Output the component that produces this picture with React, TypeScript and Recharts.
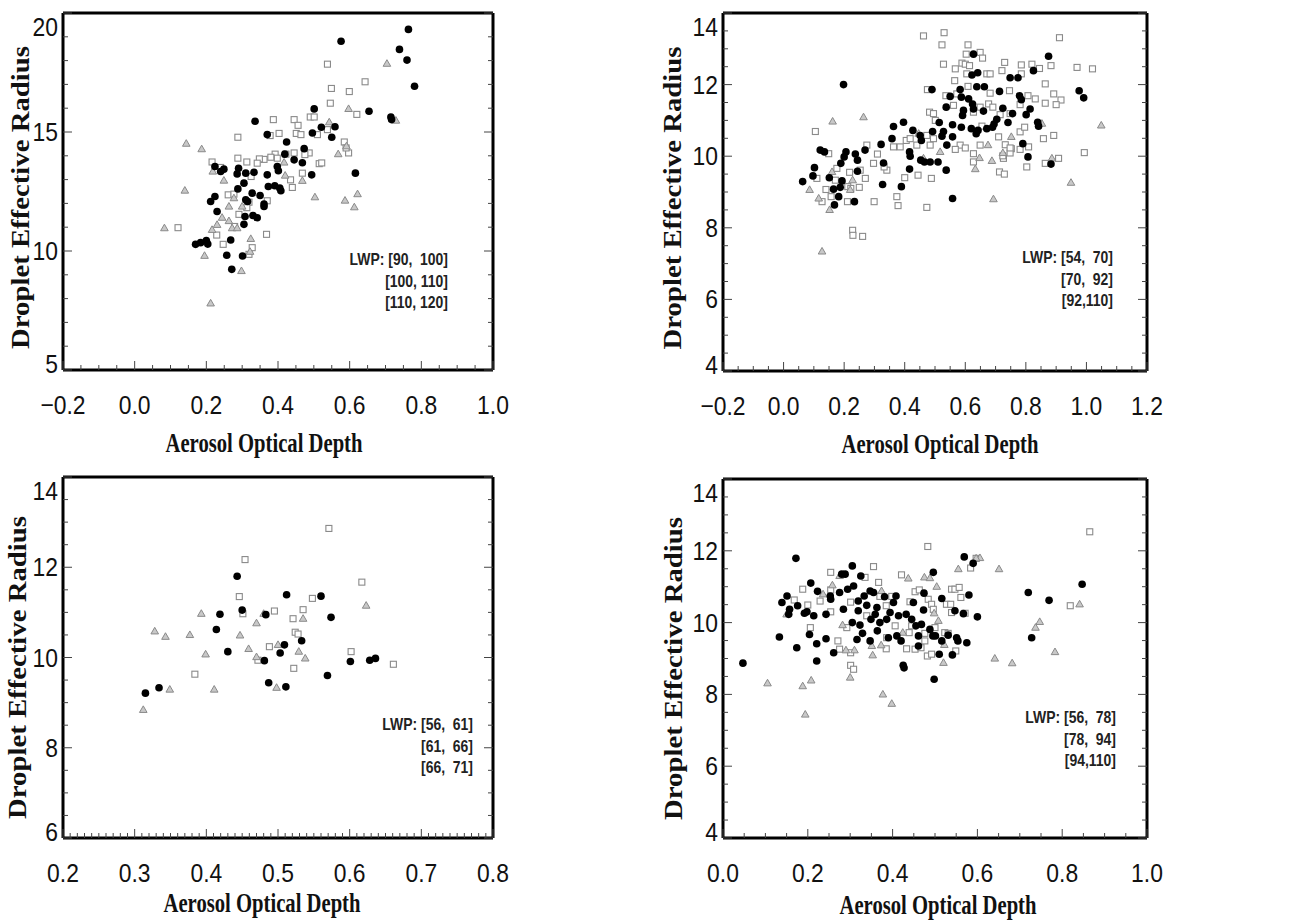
import React from "react";
import { Legend, Scatter, ScatterChart, XAxis, YAxis } from "recharts";

type Pt = [number, number];

// panel (a): LWP 90-120
const p1Circles: Pt[] = [
  [0.764, 19.31], [0.576, 18.81], [0.739, 18.47], [0.76, 18.02], [0.781, 16.92], [0.501, 15.97],
  [0.654, 15.87], [0.715, 15.63], [0.717, 15.52], [0.336, 15.45], [0.37, 14.89], [0.496, 14.96],
  [0.521, 15.2], [0.559, 15.22], [0.55, 14.78], [0.424, 14.58], [0.473, 14.3], [0.419, 14.07],
  [0.445, 13.83], [0.468, 13.71], [0.398, 13.55], [0.401, 13.37], [0.37, 13.2], [0.333, 13.31],
  [0.31, 13.27], [0.286, 13.24], [0.29, 13.48], [0.305, 12.85], [0.288, 12.61], [0.328, 12.43],
  [0.35, 12.33], [0.31, 12.15], [0.315, 12.08], [0.361, 11.97], [0.361, 11.87], [0.373, 12.71],
  [0.391, 12.74], [0.405, 12.64], [0.408, 12.53], [0.494, 13.2], [0.616, 13.27], [0.224, 13.55],
  [0.24, 13.34], [0.249, 13.44], [0.212, 12.08], [0.224, 12.29], [0.23, 11.66], [0.308, 11.45],
  [0.33, 11.49], [0.342, 11.4], [0.305, 11.12], [0.17, 10.28], [0.184, 10.35], [0.2, 10.44],
  [0.204, 10.29], [0.268, 10.46], [0.257, 9.82], [0.301, 9.79], [0.271, 9.23],
];
const p1Squares: Pt[] = [
  [0.538, 17.85], [0.549, 16.83], [0.546, 16.21], [0.643, 17.11], [0.599, 16.7], [0.62, 15.74],
  [0.49, 15.63], [0.501, 15.63], [0.445, 15.52], [0.456, 15.28], [0.451, 14.94], [0.464, 14.89],
  [0.387, 15.52], [0.288, 14.78], [0.403, 14.94], [0.378, 14.85], [0.51, 14.89], [0.538, 15.1],
  [0.585, 14.58], [0.597, 14.12], [0.59, 14.33], [0.487, 14.12], [0.475, 14.05], [0.445, 14.12],
  [0.422, 14.07], [0.392, 14.07], [0.398, 13.9], [0.38, 13.94], [0.361, 13.85], [0.348, 13.87],
  [0.342, 13.69], [0.313, 13.74], [0.288, 13.9], [0.24, 13.51], [0.216, 13.74], [0.468, 13.27],
  [0.515, 13.67], [0.522, 13.7], [0.435, 12.99], [0.44, 12.67], [0.325, 13.13], [0.261, 12.36],
  [0.277, 12.39], [0.319, 12.05], [0.313, 11.82], [0.37, 12.11], [0.291, 11.54], [0.279, 11.03],
  [0.229, 10.67], [0.247, 10.28], [0.368, 10.7], [0.121, 10.98], [0.319, 9.86], [0.328, 10.14],
];
const p1Triangles: Pt[] = [
  [0.704, 17.87], [0.597, 15.97], [0.729, 15.48], [0.543, 15.41], [0.568, 14.07], [0.591, 14.4],
  [0.144, 14.51], [0.187, 14.28], [0.14, 12.54], [0.503, 12.26], [0.587, 12.12], [0.622, 12.39],
  [0.613, 11.84], [0.083, 10.96], [0.195, 9.8], [0.298, 9.16], [0.212, 7.8], [0.324, 10.51],
  [0.322, 9.97], [0.249, 12.96], [0.263, 11.87], [0.244, 11.4], [0.263, 11.26], [0.272, 10.96],
  [0.286, 10.96], [0.23, 11.1], [0.216, 10.89], [0.417, 13.72], [0.468, 12.95], [0.42, 13.17],
  [0.277, 12.22], [0.3, 11.87], [0.218, 13.34],
];
const p1XTicks = [-0.2, 0, 0.2, 0.4, 0.6, 0.8, 1.0];
const p1YTicks = [5, 10, 15, 20];
const p1Lwp = ["[90,  100]", "[100, 110]", "[110, 120]"];

// panel (b): LWP 54-110
const p2Circles: Pt[] = [
  [0.063, 9.29], [0.097, 9.45], [0.102, 9.68], [0.121, 10.17], [0.135, 10.12], [0.151, 9.4],
  [0.165, 9.08], [0.168, 8.64], [0.182, 8.87], [0.187, 9.13], [0.193, 9.31], [0.189, 9.8],
  [0.2, 9.98], [0.206, 10.12], [0.198, 12.0], [0.234, 8.73], [0.237, 10.06], [0.244, 9.89],
  [0.244, 9.58], [0.269, 10.17], [0.322, 10.33], [0.33, 9.81], [0.327, 9.21], [0.358, 10.49],
  [0.363, 10.83], [0.396, 10.95], [0.389, 9.15], [0.416, 10.12], [0.418, 10.0], [0.416, 9.64],
  [0.427, 10.72], [0.451, 10.58], [0.455, 10.44], [0.453, 9.89], [0.465, 9.84], [0.484, 9.84],
  [0.51, 9.84], [0.49, 11.86], [0.492, 10.69], [0.514, 10.94], [0.523, 10.56], [0.528, 10.69],
  [0.537, 9.61], [0.537, 11.37], [0.539, 10.31], [0.55, 11.67], [0.558, 10.88], [0.558, 10.54],
  [0.558, 8.82], [0.583, 11.86], [0.587, 11.65], [0.591, 11.14], [0.587, 10.81], [0.611, 11.6],
  [0.622, 12.27], [0.624, 11.46], [0.627, 12.85], [0.638, 11.94], [0.641, 12.33], [0.636, 10.63],
  [0.642, 10.72], [0.62, 10.77], [0.66, 11.26], [0.663, 11.94], [0.671, 10.77], [0.69, 10.81],
  [0.695, 10.9], [0.704, 11.03], [0.713, 11.81], [0.724, 11.34], [0.741, 10.94], [0.748, 12.19],
  [0.756, 11.19], [0.774, 12.19], [0.779, 11.69], [0.785, 11.58], [0.79, 10.35], [0.801, 11.16],
  [0.807, 9.98], [0.814, 11.32], [0.825, 12.39], [0.839, 10.95], [0.842, 10.84], [0.875, 12.79],
  [0.883, 9.78], [0.976, 11.83], [0.991, 11.63], [0.627, 11.32], [0.594, 11.28],
];
const p2Squares: Pt[] = [
  [0.462, 13.36], [0.53, 13.45], [0.523, 13.11], [0.528, 12.57], [0.609, 13.11], [0.603, 12.85],
  [0.649, 12.9], [0.657, 12.74], [0.911, 13.31], [0.567, 12.44], [0.589, 12.6], [0.6, 12.57],
  [0.614, 12.53], [0.605, 12.3], [0.671, 12.3], [0.682, 12.3], [0.721, 12.39], [0.73, 12.62],
  [0.785, 12.55], [0.785, 12.3], [0.82, 12.57], [0.845, 12.45], [0.883, 12.53], [0.969, 12.48],
  [1.02, 12.44], [0.565, 12.11], [0.609, 11.95], [0.475, 11.86], [0.536, 11.69], [0.572, 11.74],
  [0.561, 11.42], [0.682, 11.76], [0.746, 11.83], [0.807, 11.69], [0.831, 11.6], [0.864, 12.02],
  [0.892, 11.74], [0.916, 11.57], [0.9, 11.44], [0.864, 11.48], [0.482, 11.23], [0.495, 11.19],
  [0.501, 11.0], [0.627, 11.23], [0.649, 11.37], [0.677, 11.46], [0.691, 11.37], [0.715, 11.16],
  [0.748, 11.19], [0.781, 11.44], [0.105, 10.69], [0.858, 10.49], [0.892, 10.58], [0.781, 10.68],
  [0.796, 10.81], [0.809, 10.26], [0.752, 10.21], [0.71, 10.54], [0.732, 10.32], [0.649, 10.31],
  [0.655, 10.84], [0.583, 10.31], [0.6, 10.23], [0.567, 10.19], [0.627, 10.07], [0.627, 9.84],
  [0.726, 9.94], [0.748, 10.09], [0.748, 10.23], [0.724, 10.01], [0.781, 10.19], [0.803, 9.7],
  [0.713, 9.56], [0.729, 9.5], [0.864, 9.8], [0.908, 9.94], [0.993, 10.1], [0.363, 10.26],
  [0.385, 10.26], [0.405, 10.44], [0.418, 10.49], [0.44, 10.31], [0.473, 10.58], [0.484, 10.31],
  [0.495, 10.49], [0.31, 10.06], [0.341, 9.61], [0.332, 9.7], [0.297, 9.8], [0.4, 9.4],
  [0.444, 9.47], [0.488, 9.38], [0.275, 10.31], [0.253, 9.61], [0.27, 9.38], [0.25, 9.13],
  [0.218, 9.55], [0.212, 9.15], [0.222, 9.1], [0.211, 8.73], [0.299, 8.73], [0.374, 8.87],
  [0.378, 8.62], [0.473, 8.57], [0.228, 7.93], [0.229, 7.79], [0.261, 7.76], [0.14, 9.07],
  [0.127, 8.73], [0.157, 8.87], [0.11, 9.38], [0.176, 9.66], [0.171, 9.33], [0.149, 10.07],
];
const p2Triangles: Pt[] = [
  [0.162, 10.97], [0.264, 11.09], [0.127, 7.34], [0.086, 9.06], [0.152, 8.5], [0.116, 8.82],
  [0.16, 9.56], [0.228, 9.33], [0.22, 9.06], [0.693, 8.8], [0.949, 9.26], [1.049, 10.86],
  [0.688, 9.87], [0.633, 9.64], [0.647, 9.95], [0.675, 10.31], [0.752, 10.54], [0.724, 10.09],
  [0.853, 10.91], [0.886, 9.94], [0.517, 10.12], [0.462, 9.94], [0.446, 10.63],
];
const p2XTicks = [-0.2, 0, 0.2, 0.4, 0.6, 0.8, 1.0, 1.2];
const p2YTicks = [4, 6, 8, 10, 12, 14];
const p2Lwp = ["[54,  70]", "[70,  92]", "[92,110]"];

// panel (c): LWP 56-71
const p3Circles: Pt[] = [
  [0.315, 9.21], [0.334, 9.33], [0.414, 10.62], [0.419, 10.96], [0.43, 10.13], [0.443, 11.8],
  [0.45, 11.05], [0.481, 9.93], [0.483, 10.95], [0.487, 9.44], [0.503, 10.1], [0.509, 10.28],
  [0.511, 9.35], [0.512, 11.39], [0.533, 10.37], [0.56, 11.36], [0.569, 9.6], [0.574, 10.89],
  [0.601, 9.91], [0.628, 9.94], [0.636, 9.98],
];
const p3Squares: Pt[] = [
  [0.571, 12.86], [0.454, 12.17], [0.446, 11.35], [0.617, 11.67], [0.548, 11.31], [0.535, 11.06],
  [0.495, 11.03], [0.521, 10.86], [0.524, 10.56], [0.528, 10.52], [0.488, 10.24], [0.472, 9.94],
  [0.522, 9.76], [0.384, 9.63], [0.602, 10.13], [0.661, 9.85], [0.451, 10.97],
];
const p3Triangles: Pt[] = [
  [0.312, 8.84], [0.328, 10.58], [0.343, 10.46], [0.349, 9.29], [0.377, 10.5], [0.393, 10.97],
  [0.399, 10.07], [0.411, 9.29], [0.447, 10.49], [0.459, 10.19], [0.47, 10.76], [0.47, 10.01],
  [0.48, 10.97], [0.498, 9.33], [0.5, 10.28], [0.529, 10.13], [0.535, 10.86], [0.538, 9.98],
  [0.623, 11.15],
];
const p3XTicks = [0.2, 0.3, 0.4, 0.5, 0.6, 0.7, 0.8];
const p3YTicks = [6, 8, 10, 12, 14];
const p3Lwp = ["[56,  61]", "[61,  66]", "[66,  71]"];

// panel (d): LWP 56-110
const p4Circles: Pt[] = [
  [0.047, 8.87], [0.133, 9.6], [0.139, 10.56], [0.151, 10.74], [0.155, 10.23], [0.157, 10.37],
  [0.172, 11.79], [0.174, 9.3], [0.176, 10.47], [0.192, 10.26], [0.198, 10.3], [0.204, 9.67],
  [0.207, 11.1], [0.214, 10.19], [0.221, 9.41], [0.221, 8.93], [0.223, 10.87], [0.243, 10.23],
  [0.243, 9.55], [0.254, 10.65], [0.261, 9.16], [0.275, 10.84], [0.284, 10.37], [0.288, 11.35],
  [0.294, 10.93], [0.305, 11.58], [0.305, 10.0], [0.308, 11.02], [0.316, 9.53], [0.319, 10.6],
  [0.319, 10.33], [0.323, 9.93], [0.325, 11.3], [0.329, 9.7], [0.333, 10.74], [0.339, 10.48],
  [0.347, 9.49], [0.349, 10.09], [0.355, 10.84], [0.359, 10.23], [0.363, 10.42], [0.364, 9.77],
  [0.37, 10.0], [0.381, 10.72], [0.386, 10.09], [0.39, 9.58], [0.394, 10.28], [0.402, 10.56],
  [0.408, 10.74], [0.41, 9.63], [0.414, 10.19], [0.42, 9.49], [0.425, 8.81], [0.427, 8.74],
  [0.432, 10.23], [0.445, 10.09], [0.449, 10.56], [0.455, 9.91], [0.461, 9.35], [0.461, 9.63],
  [0.473, 10.35], [0.474, 10.82], [0.468, 9.95], [0.488, 9.81], [0.495, 9.63], [0.496, 11.4],
  [0.498, 8.42], [0.501, 9.63], [0.51, 9.12], [0.516, 10.67], [0.516, 9.49], [0.531, 9.65],
  [0.541, 9.1], [0.547, 10.33], [0.551, 9.58], [0.554, 9.49], [0.567, 10.25], [0.569, 11.83],
  [0.575, 9.44], [0.58, 10.77], [0.59, 11.65], [0.6, 10.16], [0.72, 10.84], [0.728, 9.58],
  [0.769, 10.62], [0.847, 11.07], [0.28, 11.35], [0.253, 10.74], [0.347, 10.88],
];
const p4Squares: Pt[] = [
  [0.483, 12.12], [0.865, 12.53], [0.355, 11.56], [0.254, 11.4], [0.421, 11.33], [0.367, 11.12],
  [0.188, 10.93], [0.168, 10.63], [0.2, 10.49], [0.229, 10.6], [0.254, 10.91], [0.301, 10.57],
  [0.335, 11.26], [0.37, 10.73], [0.385, 10.47], [0.398, 10.73], [0.441, 10.58], [0.453, 10.86],
  [0.463, 10.91], [0.484, 10.65], [0.492, 10.51], [0.539, 10.93], [0.547, 10.93], [0.557, 10.98],
  [0.527, 10.51], [0.537, 10.51], [0.561, 10.7], [0.571, 10.26], [0.539, 10.28], [0.584, 11.52],
  [0.597, 11.79], [0.819, 10.47], [0.206, 9.86], [0.254, 10.3], [0.271, 9.49], [0.275, 9.26],
  [0.292, 9.86], [0.301, 9.16], [0.301, 8.81], [0.308, 8.7], [0.339, 10.19], [0.385, 9.27],
  [0.386, 9.58], [0.433, 9.27], [0.439, 9.72], [0.445, 9.91], [0.453, 9.26], [0.476, 9.49],
  [0.476, 9.7], [0.467, 9.3], [0.482, 9.07], [0.492, 9.12], [0.5, 9.86], [0.496, 10.37],
  [0.523, 9.72], [0.531, 9.7], [0.549, 9.21], [0.406, 9.91],
];
const p4Triangles: Pt[] = [
  [0.105, 8.31], [0.188, 8.23], [0.208, 8.39], [0.194, 7.44], [0.377, 8.0], [0.398, 7.74],
  [0.3, 8.47], [0.29, 9.23], [0.31, 9.23], [0.353, 9.09], [0.373, 9.37], [0.351, 9.35],
  [0.52, 8.88], [0.522, 9.38], [0.508, 10.05], [0.641, 9.0], [0.682, 8.87], [0.783, 9.18],
  [0.737, 9.86], [0.747, 10.02], [0.841, 10.51], [0.651, 11.49], [0.555, 11.49], [0.606, 11.8],
  [0.597, 11.79], [0.504, 11.0], [0.475, 11.26], [0.488, 11.24], [0.437, 11.23], [0.275, 11.3],
  [0.258, 11.04], [0.236, 10.79], [0.15, 10.23], [0.282, 9.93], [0.374, 10.88], [0.424, 9.72],
  [0.498, 10.26],
];
const p4XTicks = [0, 0.2, 0.4, 0.6, 0.8, 1.0];
const p4YTicks = [4, 6, 8, 10, 12, 14];
const p4Lwp = ["[56,  78]", "[78,  94]", "[94,110]"];

const SANS = '"Liberation Sans", Arial, Helvetica, sans-serif';
const SERIF = '"Liberation Serif", "Times New Roman", Times, serif';
const INK = "#111";
const TICK_COLOR = "#444";
const CHART_W = 645;
const CHART_H = 460;

const stepTicks = (lo: number, hi: number, step: number) => {
  const n = Math.round((hi - lo) / step);
  return Array.from({ length: n + 1 }, (_, i) => +(lo + i * step).toFixed(4));
};
const isMajor = (v: number, majors: number[]) => majors.some((m) => Math.abs(m - v) < 1e-6);
const fmtX = (v: number) => v.toFixed(1).replace("-", "\u2212");
const toXY = (pts: Pt[]) => pts.map(([x, y]) => ({ x, y }));

const panels = [
  {
    id: "a", left: 0, top: 0,
    plot: { left: 63, top: 13, right: 493, bottom: 370 },
    xDomain: [-0.2, 1.0], xTicks: p1XTicks, xMinor: 0.05,
    yDomain: [5, 20], yTicks: p1YTicks, yMinor: 1,
    circles: p1Circles, squares: p1Squares, triangles: p1Triangles, lwp: p1Lwp,
    legend: { right: 448, top: 249 }, xTitle: { dx: -14, dy: 73 }, yTitle: { off: 43, dy: 6 },
  },
  {
    id: "b", left: 645, top: 0,
    plot: { left: 78, top: 13, right: 502, bottom: 371 },
    xDomain: [-0.2, 1.2], xTicks: p2XTicks, xMinor: 0.05,
    yDomain: [4, 14], yTicks: p2YTicks, yMinor: 0.5,
    circles: p2Circles, squares: p2Squares, triangles: p2Triangles, lwp: p2Lwp,
    legend: { right: 468, top: 247 }, xTitle: { dx: 5, dy: 73 }, yTitle: { off: 51, dy: 6 },
  },
  {
    id: "c", left: 0, top: 460,
    plot: { left: 63, top: 17, right: 493, bottom: 378 },
    xDomain: [0.2, 0.8], xTicks: p3XTicks, xMinor: 0.01,
    yDomain: [6, 14], yTicks: p3YTicks, yMinor: 0.5,
    circles: p3Circles, squares: p3Squares, triangles: p3Triangles, lwp: p3Lwp,
    legend: { right: 473, top: 254 }, xTitle: { dx: -16, dy: 65 }, yTitle: { off: 46, dy: 10 },
  },
  {
    id: "d", left: 645, top: 460,
    plot: { left: 78, top: 19, right: 502, bottom: 378 },
    xDomain: [0, 1.0], xTicks: p4XTicks, xMinor: 0.05,
    yDomain: [4, 14], yTicks: p4YTicks, yMinor: 0.5,
    circles: p4Circles, squares: p4Squares, triangles: p4Triangles, lwp: p4Lwp,
    legend: { right: 471, top: 247 }, xTitle: { dx: 3, dy: 67 }, yTitle: { off: 50, dy: 10 },
  },
];

type PanelCfg = (typeof panels)[number];

const tickText = (x: number, y: number, anchor: string, label: string) => (
  <text
    transform={`translate(${x},${y}) scale(0.88,1)`}
    textAnchor={anchor}
    dominantBaseline="central"
    fontFamily={SANS}
    fontSize={26}
    fill={INK}
  >
    {label}
  </text>
);

function LwpLegend({ labels }: { labels: string[] }) {
  return (
    <div
      style={{
        fontFamily: SANS,
        fontWeight: 700,
        fontSize: 17,
        lineHeight: "21.5px",
        color: "#222",
        textAlign: "right",
        whiteSpace: "pre",
        transform: "scaleX(0.82)",
        transformOrigin: "right top",
      }}
    >
      {labels.map((l, i) => (
        <div key={l}>{(i === 0 ? "LWP: " : "") + l}</div>
      ))}
    </div>
  );
}

function Panel({ cfg }: { cfg: PanelCfg }) {
  const { plot } = cfg;
  const xAll = stepTicks(cfg.xDomain[0], cfg.xDomain[1], cfg.xMinor);
  const yAll = stepTicks(cfg.yDomain[0], cfg.yDomain[1], cfg.yMinor);
  const yTop = cfg.yDomain[1];
  const yBot = cfg.yDomain[0];
  const frame = { stroke: "#000", strokeWidth: 3 };

  const bottomTick = (p: any) => {
    const v = p.payload.value;
    const major = isMajor(v, cfg.xTicks);
    return (
      <g>
        <line x1={p.x} x2={p.x} y1={p.y} y2={p.y - (major ? 9 : 5)} stroke={TICK_COLOR} />
        {major && tickText(p.x, p.y + 35, "middle", fmtX(v))}
      </g>
    );
  };
  const topTick = (p: any) => {
    const major = isMajor(p.payload.value, cfg.xTicks);
    return <line x1={p.x} x2={p.x} y1={p.y} y2={p.y + (major ? 9 : 5)} stroke={TICK_COLOR} />;
  };
  const leftTick = (p: any) => {
    const v = p.payload.value;
    const major = isMajor(v, cfg.yTicks);
    const nudge = Math.abs(v - yTop) < 1e-6 ? 14 : Math.abs(v - yBot) < 1e-6 ? -6 : 0;
    return (
      <g>
        <line x1={p.x} x2={p.x + (major ? 9 : 5)} y1={p.y} y2={p.y} stroke={TICK_COLOR} />
        {major && tickText(p.x - 5, p.y + nudge, "end", String(v))}
      </g>
    );
  };
  const rightTick = (p: any) => {
    const major = isMajor(p.payload.value, cfg.yTicks);
    return <line x1={p.x} x2={p.x - (major ? 9 : 5)} y1={p.y} y2={p.y} stroke={TICK_COLOR} />;
  };

  const xTitle = (props: any) => {
    const vb = props.viewBox || {};
    return (
      <text
        x={vb.x + vb.width / 2 + cfg.xTitle.dx}
        y={vb.y + cfg.xTitle.dy}
        textAnchor="middle"
        dominantBaseline="central"
        textLength={197}
        lengthAdjust="spacingAndGlyphs"
        fontFamily={SERIF}
        fontWeight={700}
        fontSize={27}
        fill={INK}
      >
        Aerosol Optical Depth
      </text>
    );
  };
  const yTitle = (props: any) => {
    const vb = props.viewBox || {};
    const cx = vb.x + vb.width - cfg.yTitle.off;
    const cy = vb.y + vb.height / 2 + cfg.yTitle.dy;
    return (
      <text
        transform={`translate(${cx},${cy}) rotate(-90)`}
        textAnchor="middle"
        dominantBaseline="central"
        textLength={303}
        lengthAdjust="spacingAndGlyphs"
        fontFamily={SERIF}
        fontWeight={700}
        fontSize={26}
        fill={INK}
      >
        Droplet  Effective  Radius
      </text>
    );
  };

  // top and right axes need a 1px box or recharts skips them
  return (
    <div style={{ position: "absolute", left: cfg.left, top: cfg.top }}>
      <ScatterChart
        width={CHART_W}
        height={CHART_H}
        margin={{ top: plot.top - 1, right: CHART_W - plot.right - 1, bottom: 0, left: 0 }}
      >
        <XAxis
          xAxisId="b"
          type="number"
          dataKey="x"
          domain={cfg.xDomain}
          allowDataOverflow
          ticks={xAll}
          interval={0}
          height={CHART_H - plot.bottom}
          tickSize={0}
          tickMargin={0}
          tickLine={false}
          axisLine={frame}
          tick={bottomTick}
          label={{ content: xTitle }}
        />
        <XAxis
          xAxisId="t"
          orientation="top"
          type="number"
          domain={cfg.xDomain}
          allowDataOverflow
          ticks={xAll}
          interval={0}
          height={1}
          tickSize={0}
          tickMargin={0}
          tickLine={false}
          axisLine={frame}
          tick={topTick}
        />
        <YAxis
          yAxisId="l"
          type="number"
          dataKey="y"
          domain={cfg.yDomain}
          allowDataOverflow
          ticks={yAll}
          interval={0}
          width={plot.left}
          tickSize={0}
          tickMargin={0}
          tickLine={false}
          axisLine={frame}
          tick={leftTick}
          label={{ content: yTitle }}
        />
        <YAxis
          yAxisId="r"
          orientation="right"
          type="number"
          domain={cfg.yDomain}
          allowDataOverflow
          ticks={yAll}
          interval={0}
          width={1}
          tickSize={0}
          tickMargin={0}
          tickLine={false}
          axisLine={frame}
          tick={rightTick}
        />
        <Legend
          layout="vertical"
          align="center"
          verticalAlign="middle"
          wrapperStyle={{ left: cfg.legend.right - 200, top: cfg.legend.top, width: 200 }}
          content={() => <LwpLegend labels={cfg.lwp} />}
        />
        <Scatter
          name={cfg.lwp[0]}
          xAxisId="b"
          yAxisId="l"
          data={toXY(cfg.squares)}
          isAnimationActive={false}
          shape={(p: any) => (
            <rect x={p.cx - 3} y={p.cy - 3} width={6} height={6} fill="#fff" stroke="#8a8a8a" strokeWidth={1.1} />
          )}
        />
        <Scatter
          name={cfg.lwp[1]}
          xAxisId="b"
          yAxisId="l"
          data={toXY(cfg.triangles)}
          isAnimationActive={false}
          shape={(p: any) => (
            <polygon
              points={`${p.cx},${p.cy - 4} ${p.cx - 3.8},${p.cy + 2.6} ${p.cx + 3.8},${p.cy + 2.6}`}
              fill="#c8c8c8"
              stroke="#8a8a8a"
              strokeWidth={1}
            />
          )}
        />
        <Scatter
          name={cfg.lwp[2]}
          xAxisId="b"
          yAxisId="l"
          data={toXY(cfg.circles)}
          isAnimationActive={false}
          shape={(p: any) => <circle cx={p.cx} cy={p.cy} r={3.8} fill="#000" />}
        />
      </ScatterChart>
    </div>
  );
}

export default function App() {
  return (
    <div style={{ position: "absolute", left: 0, top: 0, width: 1290, height: 920, background: "#fff" }}>
      {panels.map((cfg) => (
        <Panel key={cfg.id} cfg={cfg} />
      ))}
    </div>
  );
}
